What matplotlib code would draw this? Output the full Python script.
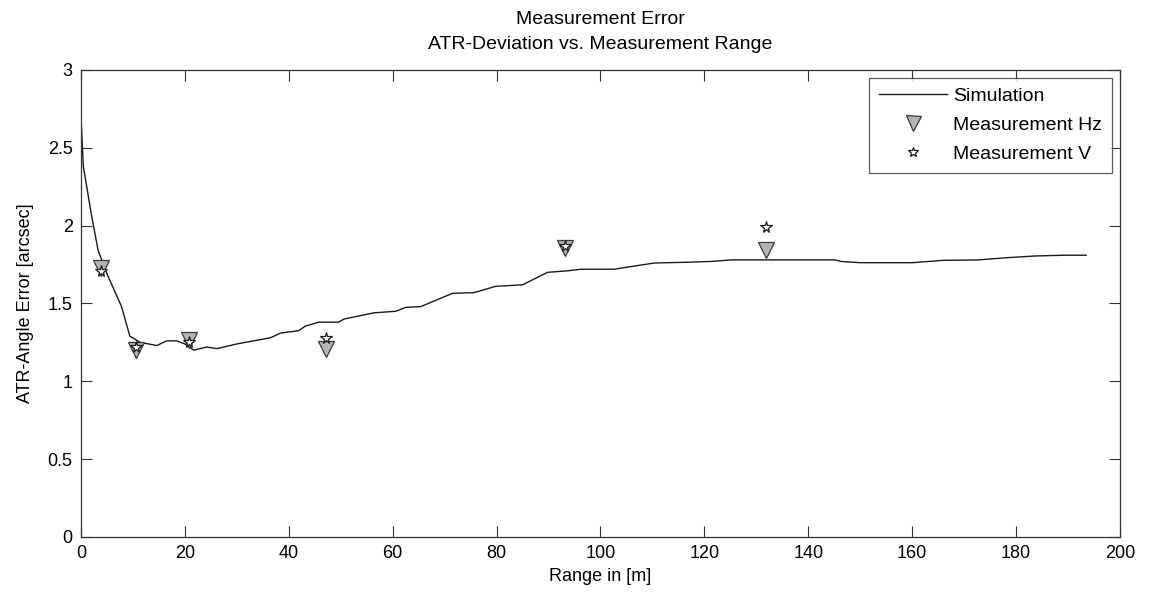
import matplotlib
matplotlib.use("Agg")
import matplotlib.pyplot as plt

plt.rcParams["font.family"] = ["Liberation Sans", "DejaVu Sans"]

# ── data ─────────────────────────────────────────────
sim_range = [0, 0.45, 2.0, 3.3, 5.0, 7.8, 9.4, 11.4, 14.6, 16.5, 18.4, 20.0,
             21.7, 24.2, 26.2, 30.0, 36.5, 38.4, 41.9, 43.2, 45.8, 49.6,
             50.6, 56.4, 60.6, 62.5, 65.4, 71.5, 75.7, 79.8, 85.0, 89.8,
             93.7, 96.2, 102.6, 104.5, 108.4, 110.4, 116.8, 121.3, 125.2,
             145.1, 146.3, 150.0, 160.0, 166.0, 172.8, 178.2, 183.6, 189.2,
             193.5]
sim_error = [2.69, 2.38, 2.07, 1.84, 1.69, 1.48, 1.29, 1.25, 1.23, 1.26, 1.26,
             1.24, 1.20, 1.22, 1.21, 1.24, 1.28, 1.31, 1.325, 1.355, 1.38,
             1.38, 1.40, 1.44, 1.45, 1.475, 1.48, 1.565, 1.57, 1.61, 1.62,
             1.70, 1.71, 1.72, 1.72, 1.73, 1.75, 1.76, 1.765, 1.77, 1.78,
             1.78, 1.77, 1.762, 1.762, 1.777, 1.78, 1.794, 1.805, 1.81, 1.81]

meas_range = [3.8, 10.6, 20.8, 47.1, 93.2, 131.8]
meas_hz = [1.73, 1.20, 1.265, 1.21, 1.855, 1.845]
meas_v = [1.71, 1.22, 1.25, 1.28, 1.87, 1.99]

x_ticks = list(range(0, 201, 20))
y_ticks = [0, 0.5, 1, 1.5, 2, 2.5, 3]
y_tick_labels = ["0", "0.5", "1", "1.5", "2", "2.5", "3"]

# ── figure ───────────────────────────────────────────
fig = plt.figure(figsize=(11.54, 5.95), dpi=100)
ax = fig.add_axes([0.0702, 0.0975, 0.9003, 0.7849])

ax.plot(sim_range, sim_error, color="#1a1a1a", linewidth=1.0,
        label="Simulation")
ax.plot(meas_range, meas_hz, linestyle="none", marker="v", markersize=12,
        markerfacecolor="#b4b4b4", markeredgecolor="#3a3a3a",
        markeredgewidth=0.9, label="Measurement Hz")
ax.plot(meas_range, meas_v, linestyle="none", marker="*", markersize=8.5,
        markerfacecolor="white", markeredgecolor="#1a1a1a",
        markeredgewidth=0.9, label="Measurement V")

ax.set_xlim(0, 200)
ax.set_ylim(0, 3)
ax.set_xticks(x_ticks)
ax.set_yticks(y_ticks)
ax.set_yticklabels(y_tick_labels)
ax.tick_params(direction="in", length=8, width=0.8, top=True, right=True,
               labelsize=13, colors="#333333", labelcolor="black", pad=6)
for sp in ax.spines.values():
    sp.set_color("#333333")
    sp.set_linewidth(0.9)

ax.set_xlabel("Range in [m]", fontsize=13, labelpad=4)
ax.set_ylabel("ATR-Angle Error [arcsec]", fontsize=13, labelpad=10)
ax.set_title("Measurement Error\nATR-Deviation vs. Measurement Range",
             fontsize=14, linespacing=1.65, pad=15)

leg = ax.legend(loc="upper right", fontsize=14, frameon=True, fancybox=False,
                edgecolor="#333333", borderaxespad=0.4, handlelength=3.5,
                handletextpad=0.35, labelspacing=0.58, borderpad=0.5,
                markerscale=0.9)
leg.get_frame().set_linewidth(0.9)

fig.savefig("out.png", dpi=100, facecolor="white")
